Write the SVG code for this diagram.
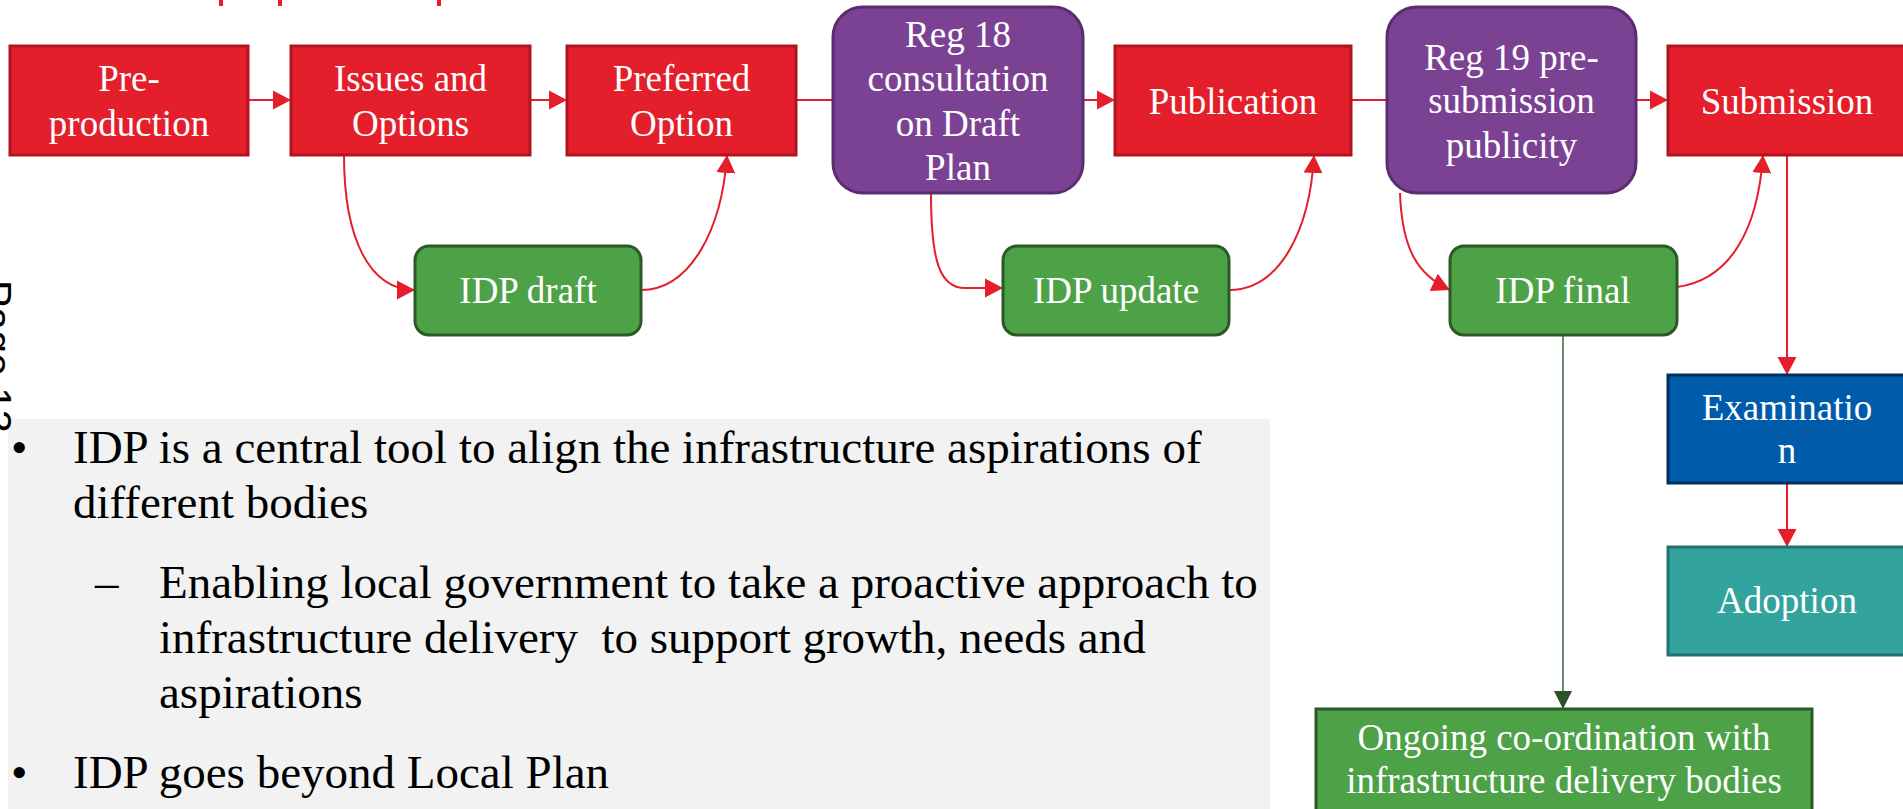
<svg xmlns="http://www.w3.org/2000/svg" width="1903" height="809" viewBox="0 0 1903 809">
<defs>
<style>
.t{font-family:"Liberation Serif","Times New Roman",serif;font-size:37px;fill:#fff;text-anchor:middle}
.red{fill:#E41E2A;stroke:#B0141E;stroke-width:3}
.pur{fill:#7B4294;stroke:#5A2C70;stroke-width:3}
.grn{fill:#4DA147;stroke:#2B5A27;stroke-width:3}
.blu{fill:#005BAA;stroke:#00305F;stroke-width:3}
.teal{fill:#33A39E;stroke:#23706C;stroke-width:3}
.c{fill:none;stroke:#E41E2A;stroke-width:2}
.b{font-family:"Liberation Serif","Times New Roman",serif;font-size:47px;fill:#000;white-space:pre}
</style>
<marker id="ar" markerUnits="userSpaceOnUse" markerWidth="20" markerHeight="20" viewBox="0 0 20 20" refX="18" refY="10" orient="auto">
<path d="M0,0.5 L18,10 L0,19.5 Z" fill="#E41E2A"/>
</marker>
<marker id="ag" markerUnits="userSpaceOnUse" markerWidth="20" markerHeight="20" viewBox="0 0 20 20" refX="18" refY="10" orient="auto">
<path d="M0,1 L18,10 L0,19 Z" fill="#2A5127"/>
</marker>
</defs>
<rect width="1903" height="809" fill="#fff"/>
<g id="title-fragment">
<rect x="219" y="0" width="4" height="6" fill="#E41E2A"/>
<rect x="278" y="0" width="4" height="6" fill="#E41E2A"/>
<rect x="437" y="0" width="4" height="6" fill="#E41E2A"/>
</g>
<g id="text-panel">
<rect x="8" y="419" width="1262" height="400" fill="#F2F2F2"/>
<text class="b" x="11" y="463" font-size="32">•</text>
<text class="b" x="73" y="463">IDP is a central tool to align the infrastructure aspirations of</text>
<text class="b" x="73" y="518">different bodies</text>
<text class="b" x="95" y="598">–</text>
<text class="b" x="159" y="598">Enabling local government to take a proactive approach to</text>
<text class="b" x="159" y="653">infrastructure delivery  to support growth, needs and</text>
<text class="b" x="159" y="708">aspirations</text>
<text class="b" x="11" y="788" font-size="32">•</text>
<text class="b" x="73" y="788">IDP goes beyond Local Plan</text>
</g>
<g id="page-label">
<text transform="translate(-17,280) rotate(90)" font-family="Liberation Sans, Arial, sans-serif" font-size="41" fill="#000">Page 13</text>
</g>
<g id="connectors">
<line class="c" x1="248" y1="100" x2="291" y2="100" marker-end="url(#ar)"/>
<line class="c" x1="530" y1="100" x2="567" y2="100" marker-end="url(#ar)"/>
<line class="c" x1="796" y1="100" x2="833" y2="100"/>
<line class="c" x1="1083" y1="100" x2="1115" y2="100" marker-end="url(#ar)"/>
<line class="c" x1="1351" y1="100" x2="1387" y2="100"/>
<line class="c" x1="1636" y1="100" x2="1668" y2="100" marker-end="url(#ar)"/>
<line class="c" x1="1787" y1="155" x2="1787" y2="375" marker-end="url(#ar)"/>
<line class="c" x1="1787" y1="483" x2="1787" y2="547" marker-end="url(#ar)"/>
<path class="c" d="M344,155 C344,240 370,290 415,290" marker-end="url(#ar)"/>
<path class="c" d="M641,290 C690,290 722,230 727,155" marker-end="url(#ar)"/>
<path class="c" d="M931,193 C931,262 940,288 965,288 L1003,288" marker-end="url(#ar)"/>
<path class="c" d="M1229,290 C1280,290 1310,230 1314,155" marker-end="url(#ar)"/>
<path class="c" d="M1400,193 C1402,250 1418,275 1450,290" marker-end="url(#ar)"/>
<path class="c" d="M1677,287 C1730,280 1758,230 1763,155" marker-end="url(#ar)"/>
<line x1="1563" y1="335" x2="1563" y2="709" stroke="#6E8B6E" stroke-width="2" marker-end="url(#ag)"/>
</g>
<g id="pre-production">
<rect class="red" x="10" y="46" width="238" height="109"/>
<text class="t" x="129" y="91">Pre-</text>
<text class="t" x="129" y="136">production</text>
</g>
<g id="issues-options">
<rect class="red" x="291" y="46" width="239" height="109"/>
<text class="t" x="410.5" y="91">Issues and</text>
<text class="t" x="410.5" y="136">Options</text>
</g>
<g id="preferred-option">
<rect class="red" x="567" y="46" width="229" height="109"/>
<text class="t" x="681.5" y="91">Preferred</text>
<text class="t" x="681.5" y="136">Option</text>
</g>
<g id="reg18">
<rect class="pur" x="833" y="7" width="250" height="186" rx="30"/>
<text class="t" x="958" y="47">Reg 18</text>
<text class="t" x="958" y="91">consultation</text>
<text class="t" x="958" y="136">on Draft</text>
<text class="t" x="958" y="180">Plan</text>
</g>
<g id="publication">
<rect class="red" x="1115" y="46" width="236" height="109"/>
<text class="t" x="1233" y="114">Publication</text>
</g>
<g id="reg19">
<rect class="pur" x="1387" y="7" width="249" height="186" rx="30"/>
<text class="t" x="1511.5" y="70">Reg 19 pre-</text>
<text class="t" x="1511.5" y="113">submission</text>
<text class="t" x="1511.5" y="158">publicity</text>
</g>
<g id="submission">
<rect class="red" x="1668" y="46" width="240" height="109"/>
<text class="t" x="1787" y="114">Submission</text>
</g>
<g id="idp-draft">
<rect class="grn" x="415" y="246" width="226" height="89" rx="14"/>
<text class="t" x="528" y="303">IDP draft</text>
</g>
<g id="idp-update">
<rect class="grn" x="1003" y="246" width="226" height="89" rx="14"/>
<text class="t" x="1116" y="303">IDP update</text>
</g>
<g id="idp-final">
<rect class="grn" x="1450" y="246" width="227" height="89" rx="14"/>
<text class="t" x="1563" y="303">IDP final</text>
</g>
<g id="examination">
<rect class="blu" x="1668" y="375" width="240" height="108"/>
<text class="t" x="1787" y="420">Examinatio</text>
<text class="t" x="1787" y="463">n</text>
</g>
<g id="adoption">
<rect class="teal" x="1668" y="547" width="240" height="108"/>
<text class="t" x="1787" y="613">Adoption</text>
</g>
<g id="ongoing">
<rect class="grn" x="1316" y="709" width="496" height="110"/>
<text class="t" x="1564" y="750">Ongoing co-ordination with</text>
<text class="t" x="1564" y="793">infrastructure delivery bodies</text>
</g>
</svg>
